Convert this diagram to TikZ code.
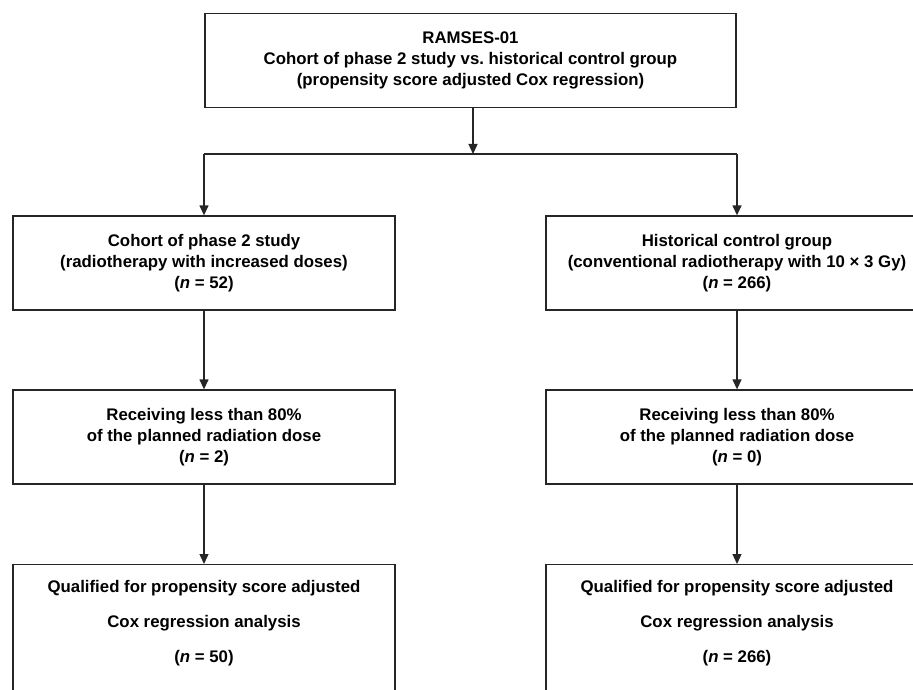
\documentclass[tikz,border=0pt]{standalone}
\usepackage{fontspec}
\setmainfont{Liberation Sans}
\usetikzlibrary{arrows.meta}
\begin{document}
\begin{tikzpicture}[x=1pt,y=-1pt,
  box/.style={draw=black!85, line width=1.3pt, inner sep=0pt, align=center,
    minimum width=382pt, minimum height=94pt,
    font=\fontsize{16.8}{20.8}\selectfont\bfseries},
  frame/.style={draw=black!85, line width=1.3pt, inner sep=0pt,
    minimum width=382pt, minimum height=200pt, anchor=north},
  boxtext/.style={align=center, inner sep=0pt,
    font=\fontsize{16.8}{35}\selectfont\bfseries},
  link/.style={draw=black!85, line width=1.3pt},
  arr/.style={link, -{Triangle[length=10pt,width=9pt]}}]
\useasboundingbox (0,0) rectangle (913,690);
\clip (0,0) rectangle (913,690);
\node[box, minimum width=531pt] (top) at (470.5,60.5)
  {RAMSES-01\\Cohort of phase 2 study vs.\ historical control group\\(propensity score adjusted Cox regression)};
\node[box] (l1) at (204,263)
  {Cohort of phase 2 study\\(radiotherapy with increased doses)\\(\textit{n} = 52)};
\node[box] (r1) at (737,263)
  {Historical control group\\(conventional radiotherapy with 10 × 3 Gy)\\(\textit{n} = 266)};
\node[box] (l2) at (204,437)
  {Receiving less than 80\%\\of the planned radiation dose\\(\textit{n} = 2)};
\node[box] (r2) at (737,437)
  {Receiving less than 80\%\\of the planned radiation dose\\(\textit{n} = 0)};
\node[frame] (l3) at (204,564) {};
\node[frame] (r3) at (737,564) {};
\node[boxtext] (l3t) at (204,623)
  {Qualified for propensity score adjusted\\Cox regression analysis\\(\textit{n} = 50)};
\node[boxtext] (r3t) at (737,623)
  {Qualified for propensity score adjusted\\Cox regression analysis\\(\textit{n} = 266)};
\coordinate (sl) at (204,154);
\coordinate (sr) at (737,154);
\coordinate (tb) at ([xshift=2.5pt]top.south);
\draw[link] (sl) -- (sr);
\draw[arr] (tb) -- (tb |- sl);
\draw[arr] (sl) -- (l1.north);
\draw[arr] (sr) -- (r1.north);
\draw[arr] (l1.south) -- (l2.north);
\draw[arr] (r1.south) -- (r2.north);
\draw[arr] (l2.south) -- (l3.north);
\draw[arr] (r2.south) -- (r3.north);
\end{tikzpicture}
\end{document}
